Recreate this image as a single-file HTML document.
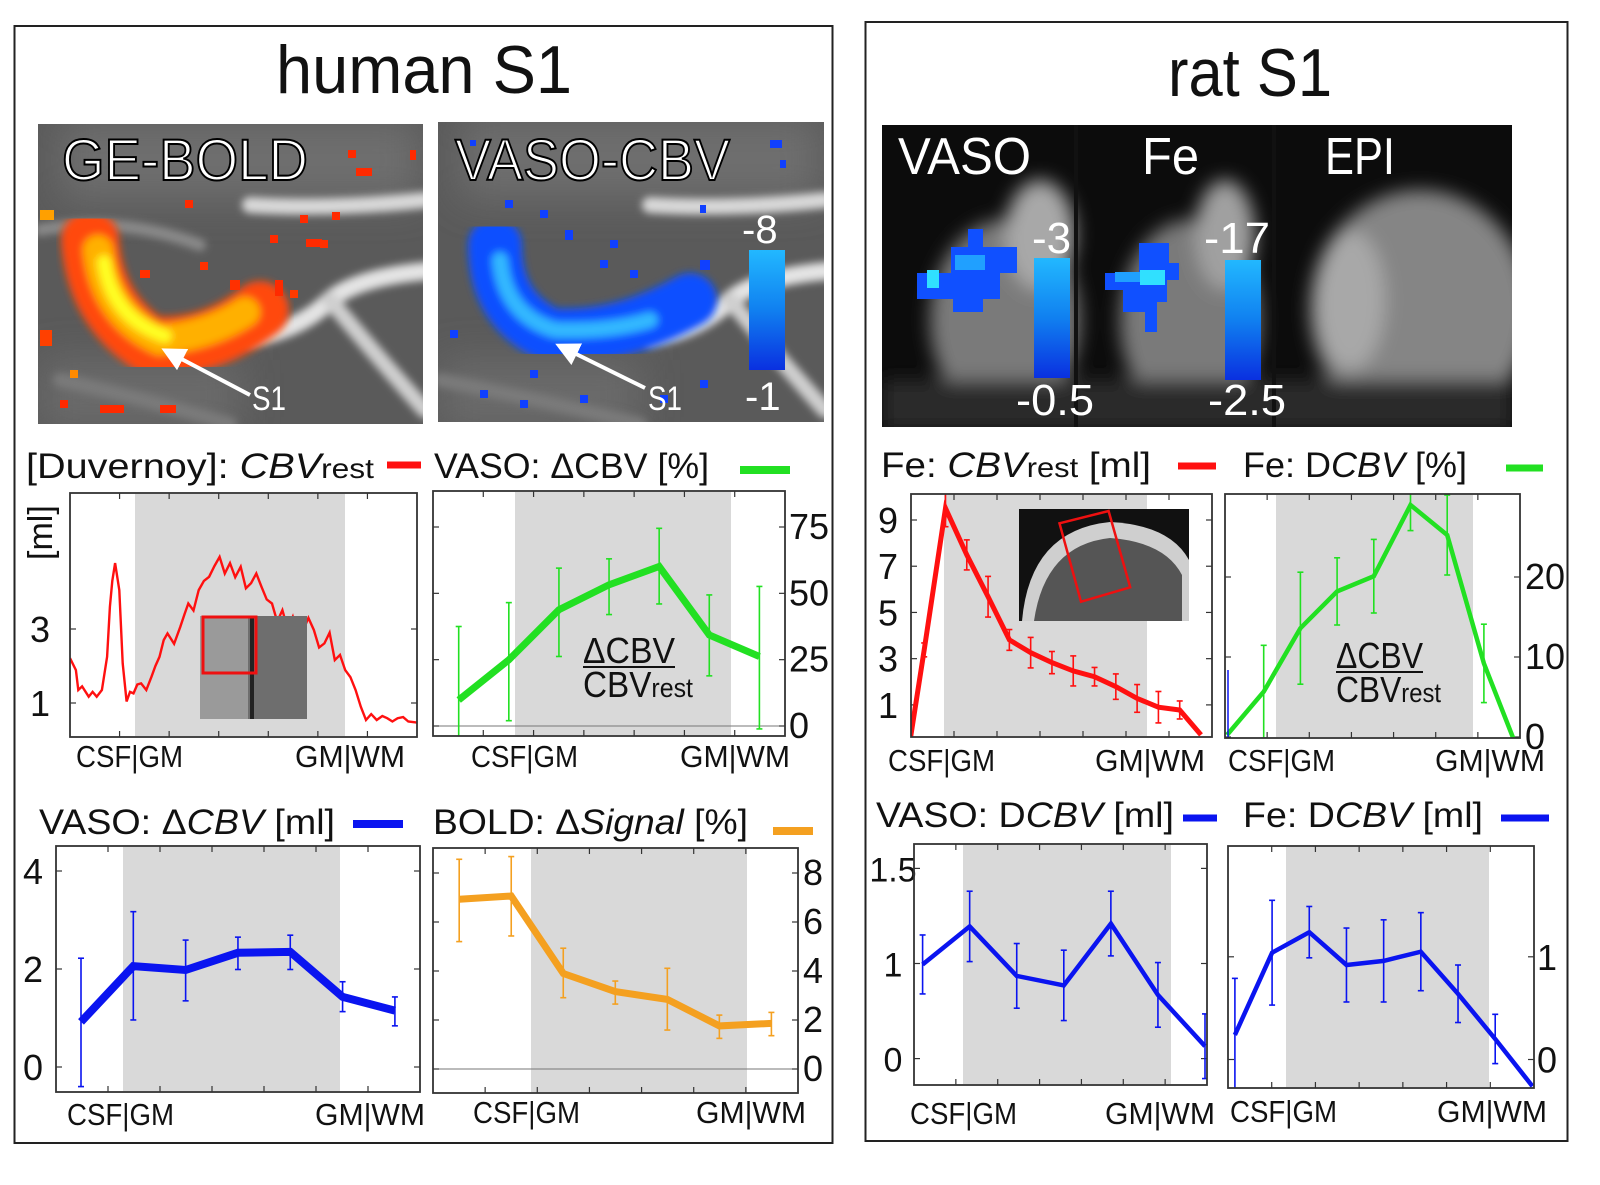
<!DOCTYPE html>
<html><head><meta charset="utf-8"><title>human S1 / rat S1 laminar profiles</title>
<style>
html,body{margin:0;padding:0;background:#fff;}
svg{display:block;font-family:"Liberation Sans","DejaVu Sans",sans-serif;}
</style></head>
<body>
<svg id="fig" width="1600" height="1185" viewBox="0 0 1600 1185" xmlns="http://www.w3.org/2000/svg">
<defs>
  <filter id="blur3" x="-20%" y="-20%" width="140%" height="140%"><feGaussianBlur stdDeviation="4"/></filter>
  <filter id="blur8" x="-30%" y="-30%" width="160%" height="160%"><feGaussianBlur stdDeviation="9"/></filter>
  <filter id="blur20" x="-30%" y="-30%" width="160%" height="160%"><feGaussianBlur stdDeviation="20"/></filter>
  <linearGradient id="cbar" x1="0" y1="0" x2="0" y2="1"><stop offset="0" stop-color="#22b8ff"/><stop offset="0.5" stop-color="#1080f0"/><stop offset="1" stop-color="#0a30e0"/></linearGradient>
  <clipPath id="ci1"><rect x="38" y="124" width="385" height="300"/></clipPath>
  <clipPath id="ci2"><rect x="438" y="122" width="386" height="300"/></clipPath>
  <clipPath id="ci3"><rect x="882" y="125" width="630" height="302"/></clipPath>
  <marker id="arrow" markerWidth="6" markerHeight="6" refX="3" refY="3" orient="auto"><path d="M0,0 L6,3 L0,6 Z" fill="#fff"/></marker>
</defs>

<rect x="14.5" y="26" width="818" height="1117" fill="none" stroke="#222" stroke-width="2"/>
<rect x="865.5" y="22" width="702" height="1119" fill="none" stroke="#222" stroke-width="2"/>
<text x="276" y="93" font-size="68" textLength="296" lengthAdjust="spacingAndGlyphs" fill="#111">human S1</text>
<text x="1168" y="96" font-size="68" textLength="164" lengthAdjust="spacingAndGlyphs" fill="#111">rat S1</text>

<!-- GE-BOLD image -->
<g clip-path="url(#ci1)">
  <rect x="38" y="124" width="385" height="300" fill="#5a5a5a"/>
  <g filter="url(#blur20)"><rect x="60" y="120" width="360" height="80" fill="#6e6e6e"/><rect x="40" y="360" width="200" height="70" fill="#6a6a6a"/></g>
  <g filter="url(#blur3)" fill="none" stroke-linecap="round">
    <path d="M250 205 Q330 210 425 200" stroke="#d8d8d8" stroke-width="16"/>
    <path d="M440 270 Q360 275 330 300 Q300 330 250 338" stroke="#e4e4e4" stroke-width="18"/>
    <path d="M330 300 Q380 360 425 410" stroke="#cfcfcf" stroke-width="16"/>
    <path d="M40 230 Q120 215 200 245" stroke="#8a8a8a" stroke-width="12"/>
    <path d="M60 380 Q150 400 230 424" stroke="#7a7a7a" stroke-width="14"/>
  </g>
  <g filter="url(#blur3)" fill="none" stroke-linecap="round">
    <path d="M90 240 Q95 310 150 345 Q210 350 260 310" stroke="#ff4a10" stroke-width="58"/>
    <path d="M98 250 Q105 315 160 340 Q210 335 245 312" stroke="#ffb000" stroke-width="30"/>
    <path d="M104 262 Q112 318 165 336" stroke="#ffff20" stroke-width="14"/>
  </g>
  <rect x="332" y="212" width="8" height="8" fill="#ff2a00"/><rect x="356" y="168" width="16" height="8" fill="#ff2a00"/>
  <rect x="348" y="150" width="8" height="8" fill="#ff2a00"/><rect x="300" y="215" width="8" height="8" fill="#ff2a00"/>
  <rect x="306" y="239" width="16" height="8" fill="#ff2a00"/><rect x="270" y="235" width="8" height="8" fill="#ff2a00"/>
  <rect x="185" y="200" width="8" height="8" fill="#ff2a00"/><rect x="410" y="150" width="6" height="10" fill="#ff2a00"/>
  <rect x="275" y="280" width="8" height="16" fill="#ff2a00"/><rect x="290" y="290" width="8" height="8" fill="#ff3a00"/>
  <rect x="60" y="400" width="8" height="8" fill="#ff2a00"/><rect x="100" y="405" width="24" height="8" fill="#ff2a00"/>
  <rect x="160" y="405" width="16" height="8" fill="#ff2a00"/><rect x="70" y="370" width="8" height="8" fill="#ff8a00"/>
  <rect x="40" y="330" width="12" height="16" fill="#ff4000"/><rect x="40" y="210" width="14" height="10" fill="#ffa000"/>
  <rect x="140" y="270" width="10" height="8" fill="#ff3000"/><rect x="200" y="262" width="8" height="8" fill="#ff3000"/>
  <rect x="230" y="280" width="10" height="10" fill="#ff3000"/><rect x="320" y="240" width="8" height="8" fill="#ff3000"/>
  <text x="62" y="180" font-size="58" textLength="246" lengthAdjust="spacingAndGlyphs" fill="#fff" stroke="#000" stroke-width="2">GE-BOLD</text>
  <line x1="250" y1="395" x2="172" y2="354" stroke="#fff" stroke-width="4" marker-end="url(#arrow)"/>
  <text x="252" y="410" font-size="34" textLength="34" lengthAdjust="spacingAndGlyphs" fill="#fff">S1</text>
</g>

<!-- VASO-CBV image -->
<g clip-path="url(#ci2)">
  <rect x="438" y="122" width="386" height="300" fill="#5a5a5a"/>
  <g filter="url(#blur20)"><rect x="460" y="118" width="360" height="80" fill="#6e6e6e"/><rect x="440" y="360" width="200" height="70" fill="#6a6a6a"/></g>
  <g filter="url(#blur3)" fill="none" stroke-linecap="round">
    <path d="M650 205 Q730 210 825 200" stroke="#d8d8d8" stroke-width="16"/>
    <path d="M840 270 Q760 275 730 300 Q700 330 650 338" stroke="#e4e4e4" stroke-width="18"/>
    <path d="M730 300 Q780 360 825 410" stroke="#cfcfcf" stroke-width="16"/>
    <path d="M440 380 Q540 400 640 424" stroke="#7a7a7a" stroke-width="14"/>
  </g>
  <g filter="url(#blur3)" fill="none" stroke-linecap="round">
    <path d="M495 245 Q495 310 550 335 Q620 340 690 300" stroke="#1050ff" stroke-width="54"/>
    <path d="M500 260 Q505 315 555 330 Q610 332 650 320" stroke="#30b8ff" stroke-width="16"/>
  </g>
  <rect x="470" y="140" width="6" height="6" fill="#1040ff"/><rect x="505" y="200" width="8" height="8" fill="#1040ff"/>
  <rect x="540" y="210" width="8" height="8" fill="#1040ff"/><rect x="700" y="205" width="6" height="8" fill="#1040ff"/>
  <rect x="770" y="140" width="12" height="8" fill="#1040ff"/><rect x="780" y="160" width="6" height="8" fill="#1040ff"/>
  <rect x="600" y="260" width="8" height="8" fill="#1040ff"/><rect x="630" y="270" width="8" height="8" fill="#1040ff"/>
  <rect x="450" y="330" width="8" height="8" fill="#1040ff"/><rect x="480" y="390" width="8" height="8" fill="#1040ff"/>
  <rect x="520" y="400" width="8" height="8" fill="#1040ff"/><rect x="580" y="395" width="8" height="8" fill="#1040ff"/>
  <rect x="660" y="395" width="8" height="8" fill="#1040ff"/><rect x="700" y="380" width="8" height="8" fill="#1040ff"/>
  <rect x="565" y="230" width="8" height="10" fill="#1040ff"/><rect x="610" y="240" width="8" height="8" fill="#1040ff"/>
  <rect x="700" y="260" width="10" height="10" fill="#1040ff"/><rect x="530" y="370" width="8" height="8" fill="#1040ff"/>
  <text x="455" y="180" font-size="58" textLength="275" lengthAdjust="spacingAndGlyphs" fill="#fff" stroke="#000" stroke-width="2">VASO-CBV</text>
  <rect x="749" y="250" width="36" height="120" fill="url(#cbar)"/>
  <text x="742" y="243" font-size="40" fill="#fff">-8</text>
  <text x="745" y="410" font-size="40" fill="#fff">-1</text>
  <line x1="645" y1="388" x2="566" y2="349" stroke="#fff" stroke-width="4" marker-end="url(#arrow)"/>
  <text x="648" y="410" font-size="34" textLength="34" lengthAdjust="spacingAndGlyphs" fill="#fff">S1</text>
</g>

<!-- rat image -->
<g clip-path="url(#ci3)">
  <rect x="882" y="125" width="630" height="302" fill="#0c0c0c"/>
  <g filter="url(#blur8)">
    <ellipse cx="1005" cy="320" rx="75" ry="100" fill="#7a7a7a"/>
    <ellipse cx="1040" cy="235" rx="35" ry="55" fill="#a8a8a8"/>
    <ellipse cx="1190" cy="320" rx="70" ry="100" fill="#7a7a7a"/>
    <ellipse cx="1225" cy="235" rx="30" ry="55" fill="#a0a0a0"/>
    <ellipse cx="1420" cy="310" rx="110" ry="120" fill="#858585"/>
    <ellipse cx="1350" cy="300" rx="35" ry="70" fill="#a8a8a8"/>
    <rect x="882" y="380" width="630" height="50" fill="#2a2a2a"/>
  </g>
  <rect x="1074" y="125" width="4" height="302" fill="#111"/>
  <rect x="1272" y="125" width="4" height="302" fill="#111"/>
  <path d="M917 273 h34 v-26 h17 v-18 h15 v18 h34 v26 h-17 v26 h-17 v13 h-30 v-13 h-36 Z" fill="#1050ff"/>
  <rect x="927" y="270" width="12" height="18" fill="#30e0ff"/><rect x="955" y="255" width="30" height="15" fill="#20a0ff"/>
  <path d="M1105 273 h34 v-30 h30 v20 h10 v17 h-12 v22 h-10 v30 h-12 v-20 h-22 v-22 h-18 Z" fill="#1050ff"/>
  <rect x="1140" y="270" width="25" height="15" fill="#30e0ff"/><rect x="1115" y="272" width="25" height="10" fill="#20a0ff"/>
  <rect x="1034" y="258" width="36" height="120" fill="url(#cbar)"/>
  <rect x="1225" y="260" width="36" height="120" fill="url(#cbar)"/>
  <text x="898" y="174" font-size="52" textLength="133" lengthAdjust="spacingAndGlyphs" fill="#fff">VASO</text>
  <text x="1142" y="174" font-size="52" textLength="57" lengthAdjust="spacingAndGlyphs" fill="#fff">Fe</text>
  <text x="1325" y="174" font-size="52" textLength="70" lengthAdjust="spacingAndGlyphs" fill="#fff">EPI</text>
  <text x="1032" y="253" font-size="44" fill="#fff">-3</text>
  <text x="1016" y="415" font-size="44" textLength="78" lengthAdjust="spacingAndGlyphs" fill="#fff">-0.5</text>
  <text x="1204" y="253" font-size="44" textLength="66" lengthAdjust="spacingAndGlyphs" fill="#fff">-17</text>
  <text x="1208" y="415" font-size="44" textLength="78" lengthAdjust="spacingAndGlyphs" fill="#fff">-2.5</text>
</g>

<g fill="#111" font-size="35">
  <text x="26" y="478" textLength="348" lengthAdjust="spacingAndGlyphs">[Duvernoy]: <tspan font-style="italic">CBV</tspan><tspan font-size="28">rest</tspan></text>
  <line x1="387" y1="465" x2="421" y2="465" stroke="#ff1010" stroke-width="7"/>
  <text x="434" y="478" textLength="275" lengthAdjust="spacingAndGlyphs">VASO: ΔCBV [%]</text>
  <line x1="740" y1="470" x2="790" y2="470" stroke="#22e022" stroke-width="8"/>
  <text x="39" y="834" textLength="296" lengthAdjust="spacingAndGlyphs">VASO: Δ<tspan font-style="italic">CBV</tspan> [ml]</text>
  <line x1="353" y1="824" x2="403" y2="824" stroke="#0a14f0" stroke-width="8"/>
  <text x="433" y="834" textLength="315" lengthAdjust="spacingAndGlyphs">BOLD: Δ<tspan font-style="italic">Signal</tspan> [%]</text>
  <line x1="773" y1="831" x2="813" y2="831" stroke="#f4a020" stroke-width="8"/>
  <text x="881" y="477" textLength="270" lengthAdjust="spacingAndGlyphs">Fe: <tspan font-style="italic">CBV</tspan><tspan font-size="28">rest</tspan> [ml]</text>
  <line x1="1178" y1="466" x2="1216" y2="466" stroke="#ff1010" stroke-width="7"/>
  <text x="1243" y="477" textLength="224" lengthAdjust="spacingAndGlyphs">Fe: D<tspan font-style="italic">CBV</tspan> [%]</text>
  <line x1="1506" y1="468" x2="1543" y2="468" stroke="#22e022" stroke-width="7"/>
  <text x="876" y="827" textLength="298" lengthAdjust="spacingAndGlyphs">VASO: D<tspan font-style="italic">CBV</tspan> [ml]</text>
  <line x1="1183" y1="818" x2="1217" y2="818" stroke="#0a14f0" stroke-width="7"/>
  <text x="1243" y="827" textLength="240" lengthAdjust="spacingAndGlyphs">Fe: D<tspan font-style="italic">CBV</tspan> [ml]</text>
  <line x1="1501" y1="818" x2="1549" y2="818" stroke="#0a14f0" stroke-width="7"/>
</g>

<g id="plots"></g>
</svg>

<script>
// ---------- data ----------
const p1Depth = [0,1.7,2.4,3.5,5.4,6.5,7.7,9.2,10.7,11.5,12.2,13,14.2,15.2,16.3,17.3,18.3,19.4,20.5,22,23.5,24.6,25.8,27,28.1,30,31.8,33,34.1,35.6,37.1,38.6,40.1,41.6,43.1,44.6,46.1,47.6,49.2,50.7,52.2,53.7,55.2,56.7,58.2,59.7,61.2,62.7,64.2,65.7,67.2,68.7,70.3,71.8,73.3,74.8,76.3,77.8,79.3,80.8,82.3,83.8,85.3,86.8,88.4,90,91.4,92.9,94.4,96,97.5,100];
const p1Vals  = [2.21,1.89,1.35,1.45,1.17,1.3,1.17,1.35,2.25,3.6,4.3,4.78,4.05,2.07,1.04,1.3,1.26,1.5,1.53,1.35,1.71,2.0,2.25,2.7,2.88,2.6,3.06,3.4,3.69,3.5,4.05,4.3,4.41,4.7,4.95,4.5,4.78,4.4,4.68,4.1,4.24,4.5,4.14,3.8,3.69,3.2,3.51,3.0,3.33,2.8,2.97,3.3,2.97,2.5,2.61,2.9,2.16,2.3,1.89,1.7,1.35,0.9,0.54,0.7,0.54,0.65,0.59,0.5,0.59,0.62,0.5,0.47];
const p1Ticks = [1,3];

const p2Vals = [9.8,24.9,43.8,53.2,60.1,34.3,26.2];
const p2Hi   = [37.5,46.5,59.5,63,74.5,49.4,52.6];
const p2Lo   = [-5,2,26.2,42,46,18.9,-1.1];
const p2Ticks = [0,25,50,75];

const p3Vals = [0.92,2.06,1.98,2.33,2.35,1.43,1.15];
const p3Hi   = [2.22,3.17,2.59,2.65,2.69,1.74,1.43];
const p3Lo   = [-0.4,0.96,1.35,1.99,1.99,1.13,0.84];
const p3Ticks = [0,2,4];

const p4Vals = [6.93,7.06,3.9,3.16,2.84,1.76,1.86];
const p4Hi   = [8.56,8.67,4.93,3.59,4.11,2.2,2.31];
const p4Lo   = [5.2,5.43,2.91,2.65,1.59,1.25,1.36];
const p4Ticks = [0,2,4,6,8];

const p5Vals = [-2.54,3.38,9.51,7.49,5.68,3.81,3.26,2.83,2.47,2.22,1.79,1.28,0.9,0.78,-0.3];
const p5Err  = [0,0.3,0.8,0.65,0.88,0.45,0.66,0.48,0.65,0.4,0.55,0.6,0.68,0.39,0];
const p5Ticks = [1,3,5,7,9];

const p6Vals = [0.25,5.66,13.6,18.2,20.1,29,25.25,9.2,-2.5];
const p6Err  = [0,5.8,7,4.2,4.6,3.2,5,4.9,0];
const p6Ticks = [0,10,20];

const p7Vals = [0.99,1.39,0.87,0.77,1.42,0.67,0.13];
const p7Err  = [0.31,0.37,0.34,0.37,0.34,0.34,0.34];
const p7TickVals = [0,1,2];
const p7TickText = ['0','1','1.5'];

const p8Vals = [0.24,1.04,1.24,0.92,0.96,1.05,0.64,0.2,-0.26];
const p8Err  = [0.55,0.51,0.25,0.36,0.4,0.38,0.28,0.24,0];
const p8Ticks = [0,1];

// ---------- helpers ----------
const NS = 'http://www.w3.org/2000/svg';
const root = document.getElementById('plots');
function mk(parent, tag, attrs, name) {
  const el = document.createElementNS(NS, tag);
  for (const k in attrs) el.setAttribute(k, attrs[k]);
  
  
  parent.appendChild(el);
  return el;
}
function linScale(v0, p0, v1, p1) { return v => p0 + (v - v0) * (p1 - p0) / (v1 - v0); }

let clipId = 0;
function makePlot(cfg) {
  const g = mk(root, 'g', {}, cfg.name);
  const [x0, y0, x1, y1] = cfg.frame;
  clipId++;
  const cp = mk(g, 'clipPath', {id: 'pc' + clipId}, cfg.name + '-clip');
  mk(cp, 'rect', {x: x0, y: y0, width: x1 - x0, height: y1 - y0}, cfg.name + '-clip-rect');
  mk(g, 'rect', {x: cfg.gray[0], y: y0 + 1, width: cfg.gray[1] - cfg.gray[0], height: y1 - y0 - 2, fill: '#d9d9d9'}, cfg.name + '-gm-band');
  if (cfg.zeroLine) {
    mk(g, 'line', {x1: x0, x2: x1, y1: cfg.y(0), y2: cfg.y(0), stroke: '#777', 'stroke-width': 1}, cfg.name + '-zero-line');
  }
  const nx = cfg.nxTicks || 7;
  for (let i = 1; i < nx; i++) {
    const tx = x0 + (x1 - x0) * i / nx;
    mk(g, 'line', {x1: tx, x2: tx, y1: y0, y2: y0 + 6, stroke: '#333', 'stroke-width': 1.2}, cfg.name + '-xtick-top');
    mk(g, 'line', {x1: tx, x2: tx, y1: y1, y2: y1 - 6, stroke: '#333', 'stroke-width': 1.2}, cfg.name + '-xtick-bottom');
  }
  cfg.ticks.forEach((t, i) => {
    const ty = cfg.y(t);
    mk(g, 'line', {x1: x0, x2: x0 + 6, y1: ty, y2: ty, stroke: '#333', 'stroke-width': 1.2}, cfg.name + '-ytick-left');
    mk(g, 'line', {x1: x1, x2: x1 - 6, y1: ty, y2: ty, stroke: '#333', 'stroke-width': 1.2}, cfg.name + '-ytick-right');
    const lab = mk(g, 'text', {x: cfg.labelX, y: ty + cfg.labelDy, 'font-size': cfg.labelSize || 36, fill: '#111', 'text-anchor': cfg.labelAnchor}, cfg.name + '-ytick-label');
    lab.textContent = cfg.tickText ? cfg.tickText[i] : String(t);
  });
  const inner = mk(g, 'g', {'clip-path': 'url(#pc' + clipId + ')'}, cfg.name + '-data');
  return {g, inner};
}
function drawSeries(p, cfg, xs, vals, lo, hi) {
  if (lo) {
    vals.forEach((v, i) => {
      if (hi[i] === lo[i]) return;
      const px = cfg.x(xs[i]);
      mk(p.inner, 'line', {x1: px, x2: px, y1: cfg.y(hi[i]), y2: cfg.y(lo[i]), stroke: cfg.color, 'stroke-width': 1.6}, cfg.name + '-error-bar');
      mk(p.inner, 'line', {x1: px - 3, x2: px + 3, y1: cfg.y(hi[i]), y2: cfg.y(hi[i]), stroke: cfg.color, 'stroke-width': 1.6}, cfg.name + '-error-cap');
      mk(p.inner, 'line', {x1: px - 3, x2: px + 3, y1: cfg.y(lo[i]), y2: cfg.y(lo[i]), stroke: cfg.color, 'stroke-width': 1.6}, cfg.name + '-error-cap');
    });
  }
  const pts = vals.map((v, i) => cfg.x(xs[i]).toFixed(1) + ',' + cfg.y(v).toFixed(1)).join(' ');
  mk(p.inner, 'polyline', {points: pts, fill: 'none', stroke: cfg.color, 'stroke-width': cfg.lw, 'stroke-linejoin': 'miter'}, cfg.name + '-line');
}
function frame(p, cfg) {
  const [x0, y0, x1, y1] = cfg.frame;
  mk(p.g, 'rect', {x: x0, y: y0, width: x1 - x0, height: y1 - y0, fill: 'none', stroke: '#333', 'stroke-width': 1.8}, cfg.name + '-frame');
}
function xLabels(cfg, ax, bx, by) {
  const t1 = mk(root, 'text', {x: ax, y: by, 'font-size': 31, textLength: 107, lengthAdjust: 'spacingAndGlyphs', fill: '#111'}, cfg.name + '-csf-gm-label');
  t1.textContent = 'CSF|GM';
  const t2 = mk(root, 'text', {x: bx, y: by, 'font-size': 31, textLength: 110, lengthAdjust: 'spacingAndGlyphs', fill: '#111'}, cfg.name + '-gm-wm-label');
  t2.textContent = 'GM|WM';
}
function fraction(name, x, y, w) {
  const t1 = mk(root, 'text', {x: x, y: y, 'font-size': 36, textLength: w, lengthAdjust: 'spacingAndGlyphs', fill: '#111'}, name + '-numerator');
  t1.textContent = 'ΔCBV';
  mk(root, 'line', {x1: x, x2: x + w, y1: y + 4, y2: y + 4, stroke: '#111', 'stroke-width': 2}, name + '-bar');
  const t2 = mk(root, 'text', {x: x, y: y + 34, 'font-size': 36, textLength: w + 18, lengthAdjust: 'spacingAndGlyphs', fill: '#111'}, name + '-denominator');
  t2.innerHTML = 'CBV<tspan font-size="27">rest</tspan>';
}
const idx = n => Array.from({length: n}, (_, i) => i);

// P1 Duvernoy
{
  const cfg = {name: 'duvernoy-plot', frame: [70, 493, 417, 737], gray: [135, 345], color: '#ff1010', lw: 2.4,
    x: linScale(0, 70, 100, 417), y: linScale(1, 703, 3, 629), ticks: p1Ticks, labelX: 40, labelDy: 13, labelAnchor: 'middle'};
  const p = makePlot(cfg);
  const ins = mk(p.g, 'g', {}, 'duvernoy-inset');
  mk(ins, 'rect', {x: 200, y: 616, width: 107, height: 103, fill: '#6e6e6e'}, 'inset-image');
  mk(ins, 'rect', {x: 200, y: 616, width: 48, height: 103, fill: '#9a9a9a'}, 'inset-cortex');
  mk(ins, 'line', {x1: 252, x2: 252, y1: 616, y2: 719, stroke: '#222', 'stroke-width': 4}, 'inset-vessel');
  mk(ins, 'rect', {x: 203, y: 617, width: 53, height: 56, fill: 'none', stroke: '#ee1010', 'stroke-width': 3}, 'inset-roi-box');
  drawSeries(p, cfg, p1Depth, p1Vals);
  frame(p, cfg);
  xLabels(cfg, 76, 295, 767);
  const yl = mk(root, 'text', {x: 0, y: 0, 'font-size': 34, fill: '#111', transform: 'translate(52,560) rotate(-90)'}, 'duvernoy-y-axis-title');
  yl.textContent = '[ml]';
}
// P2 VASO %
{
  const cfg = {name: 'vaso-pct-plot', frame: [433, 491, 785, 736], gray: [515, 731], color: '#22e022', lw: 7,
    x: linScale(0, 458.7, 6, 759.4), y: linScale(0, 726, 75, 527), ticks: p2Ticks, labelX: 789, labelDy: 12, labelAnchor: 'start', zeroLine: true};
  const p = makePlot(cfg);
  drawSeries(p, cfg, idx(7), p2Vals, p2Lo, p2Hi);
  frame(p, cfg);
  xLabels(cfg, 471, 680, 767);
  fraction('vaso-ratio-label', 583, 663, 92);
}
// P3 VASO ml
{
  const cfg = {name: 'vaso-ml-plot', frame: [56, 846, 420, 1092], gray: [123, 340], color: '#0a14f0', lw: 8,
    x: linScale(0, 81, 6, 394.9), y: linScale(0, 1067, 4, 871), ticks: p3Ticks, labelX: 33, labelDy: 13, labelAnchor: 'middle'};
  const p = makePlot(cfg);
  drawSeries(p, cfg, idx(7), p3Vals, p3Lo, p3Hi);
  frame(p, cfg);
  xLabels(cfg, 67, 315, 1125);
}
// P4 BOLD
{
  const cfg = {name: 'bold-plot', frame: [433, 848, 798, 1093], gray: [531, 747], color: '#f4a020', lw: 7,
    x: linScale(0, 459.2, 6, 771.4), y: linScale(0, 1069, 8, 873), ticks: p4Ticks, labelX: 803, labelDy: 12, labelAnchor: 'start', zeroLine: true};
  const p = makePlot(cfg);
  drawSeries(p, cfg, idx(7), p4Vals, p4Lo, p4Hi);
  frame(p, cfg);
  xLabels(cfg, 473, 696, 1123);
}
// P5 Fe CBVrest
{
  const cfg = {name: 'fe-cbvrest-plot', frame: [911, 494, 1212, 737], gray: [944, 1147], color: '#ff1010', lw: 5,
    x: linScale(0, 902.9, 14, 1201), y: linScale(0, 728, 9, 520), ticks: p5Ticks, labelX: 888, labelDy: 13, labelAnchor: 'middle'};
  const p = makePlot(cfg);
  const ins = mk(p.g, 'g', {}, 'fe-inset');
  mk(ins, 'rect', {x: 1019, y: 509, width: 170, height: 112, fill: '#111'}, 'fe-inset-image');
  mk(ins, 'path', {d: 'M1022 621 Q1030 530 1110 522 Q1170 525 1189 560 L1189 621 Z', fill: '#cfcfcf'}, 'fe-inset-brain');
  mk(ins, 'path', {d: 'M1034 621 Q1045 545 1110 538 Q1165 542 1182 575 L1182 621 Z', fill: '#555'}, 'fe-inset-cortex');
  mk(ins, 'polygon', {points: '1059.5,523.3 1108.6,511 1130.2,587.3 1081,601.7', fill: 'none', stroke: '#ee1010', 'stroke-width': 2.5}, 'fe-inset-roi');
  drawSeries(p, cfg, idx(15), p5Vals, p5Vals.map((v, i) => v - p5Err[i]), p5Vals.map((v, i) => v + p5Err[i]));
  frame(p, cfg);
  xLabels(cfg, 888, 1095, 771);
}
// P6 Fe DCBV %
{
  const cfg = {name: 'fe-pct-plot', frame: [1225, 494, 1520, 738], gray: [1276, 1473], color: '#22e022', lw: 4.5,
    x: linScale(0, 1227, 8, 1520.6), y: linScale(0, 737, 20, 577), ticks: p6Ticks, labelX: 1525, labelDy: 12, labelAnchor: 'start'};
  const p = makePlot(cfg);
  mk(p.g, 'line', {x1: 1228, x2: 1228, y1: 670, y2: 737, stroke: '#0a14f0', 'stroke-width': 1.5}, 'fe-pct-stray-bar');
  drawSeries(p, cfg, idx(9), p6Vals, p6Vals.map((v, i) => v - p6Err[i]), p6Vals.map((v, i) => v + p6Err[i]));
  frame(p, cfg);
  xLabels(cfg, 1228, 1435, 771);
  fraction('fe-ratio-label', 1336, 668, 87);
}
// P7 VASO rat
{
  const cfg = {name: 'vaso-rat-plot', frame: [914, 844, 1207, 1085], gray: [963, 1171], color: '#0a14f0', lw: 4.5,
    x: linScale(0, 922.6, 6, 1205), y: linScale(0, 1058.6, 1, 963.5), ticks: p7TickVals, tickText: p7TickText,
    labelX: 893, labelDy: 13, labelAnchor: 'middle', labelSize: 34};
  const p = makePlot(cfg);
  drawSeries(p, cfg, idx(7), p7Vals, p7Vals.map((v, i) => v - p7Err[i]), p7Vals.map((v, i) => v + p7Err[i]));
  frame(p, cfg);
  xLabels(cfg, 910, 1105, 1124);
}
// P8 Fe rat
{
  const cfg = {name: 'fe-ml-plot', frame: [1228, 846, 1534, 1088], gray: [1286, 1489], color: '#0a14f0', lw: 4.5,
    x: linScale(0, 1234.9, 8, 1532.4), y: linScale(0, 1059.5, 1, 956.8), ticks: p8Ticks, labelX: 1537, labelDy: 13, labelAnchor: 'start'};
  const p = makePlot(cfg);
  drawSeries(p, cfg, idx(9), p8Vals, p8Vals.map((v, i) => v - p8Err[i]), p8Vals.map((v, i) => v + p8Err[i]));
  frame(p, cfg);
  xLabels(cfg, 1230, 1437, 1122);
}
</script>
</body></html>
